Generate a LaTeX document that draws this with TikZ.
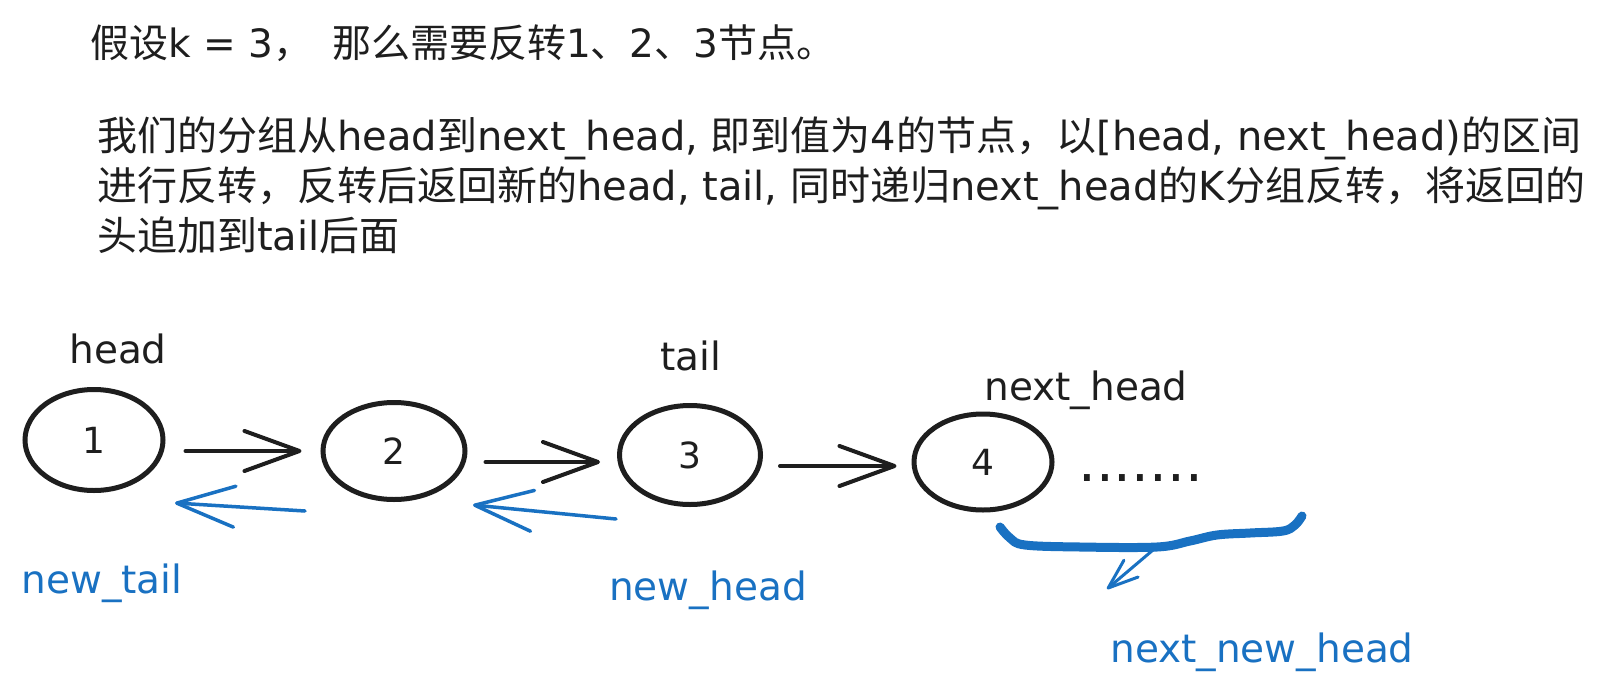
\documentclass[tikz,border=0pt]{standalone}
\usepackage{fontspec}
\setmainfont{DejaVu Sans}
\newfontfamily\cjk{Noto Sans CJK SC}
\usetikzlibrary{arrows.meta,calc,shapes.geometric}
\definecolor{ink}{HTML}{1E1E1E}
\definecolor{sky}{HTML}{1971C2}
\newcommand{\zh}[1]{{\cjk #1}}
\begin{document}
\begin{tikzpicture}[x=1pt,y=-1pt,
  txt/.style={font=\fontsize{39}{50}\selectfont, inner sep=0pt, text=ink, anchor=base west},
  para/.style={txt, font=\fontsize{40}{50}\selectfont},
  lbl/.style={font=\fontsize{39}{47}\selectfont, inner sep=0pt, anchor=base},
  listnode/.style={ellipse, draw=ink, line width=5pt, inner sep=0pt, font=\fontsize{36}{40}\selectfont, text=ink},
  fwd/.style={draw=ink, line width=4pt, line cap=round, -{Straight Barb[length=55pt,width=40pt,round]}},
  bwd/.style={draw=sky, line width=3.5pt, line cap=round, -{Straight Barb[length=58pt,width=41pt,round]}},
  brace/.style={draw=sky, line width=9pt, line cap=round, line join=round},
  pointer/.style={draw=sky, line width=3pt, line cap=round, -{Straight Barb[length=30pt,width=22pt,round]}}
]
\fill[white] (0,0) rectangle (1613,693);
\useasboundingbox (0,0) rectangle (1613,693);

% text block
\node[txt] (t1) at (90,57) {\zh{假设}k = 3\zh{，}\hspace{20pt}\zh{那么需要反转}1\zh{、}2\zh{、}3\zh{节点。}};
\node[para] (p1) at (97,150) {\zh{我们的分组从}head\zh{到}next\_head, \zh{即到值为}4\zh{的节点，以}[head, next\_head)\zh{的区间}};
\node[para] (p2) at (97,200) {\zh{进行反转，反转后返回新的}head, tail, \zh{同时递归}next\_head\zh{的}K\zh{分组反转，将返回的}};
\node[para] (p3) at (97,250) {\zh{头追加到}tail\zh{后面}};

% list nodes
\node[listnode, minimum width=138pt, minimum height=101pt] (c1) at (94,440) {1};
\node[listnode, minimum width=142pt, minimum height=97pt] (c2) at (394,451) {2};
\node[listnode, minimum width=141pt, minimum height=99pt] (c3) at (690,455) {3};
\node[listnode, minimum width=138pt, minimum height=96pt] (c4) at (983,462) {4};

% labels
\node[lbl, text=ink] (lhead) at (118,363) {head};
\node[lbl, text=ink] (ltail) at (691,370) {tail};
\node[lbl, text=ink] (lnext) at (1086,400) {next\_head};
\node[font=\fontsize{56}{60}\selectfont, inner sep=0pt, anchor=base west, text=ink] (dots) at (1078,481) {.......};
\node[lbl, text=sky] (lnt) at (102,593) {new\_tail};
\node[lbl, text=sky] (lnh) at (708,600) {new\_head};
\node[lbl, text=sky] (lnnh) at (1262,662) {next\_new\_head};

% forward links
\draw[fwd] ($(c1.east)+(20,11)$) -- ($(c2.west)+(-19,0)$);
\draw[fwd] ($(c2.east)+(18,11)$) -- ($(c3.west)+(-17,7)$);
\draw[fwd] ($(c3.east)+(17,11)$) -- ($(c4.west)+(-15,4)$);

% reversed links
\draw[bwd] ($(c2)+(-89,60)$) -- ($(c1)+(81,63)$);
\draw[bwd] ($(c3)+(-74,64)$) -- ($(c2)+(79,54)$);

% brace under the rest of the list
\draw[brace] plot[smooth, tension=0.6] coordinates {(1000,527) (1010,538) (1025,545) (1080,547) (1157,547) (1190,541) (1217,535) (1250,533) (1283,531) (1295,525) (1302,516)};
\coordinate (bk) at (1153,550);
\coordinate (bt) at (1107,589);
\draw[pointer] (bk) -- (bt);
\end{tikzpicture}
\end{document}
